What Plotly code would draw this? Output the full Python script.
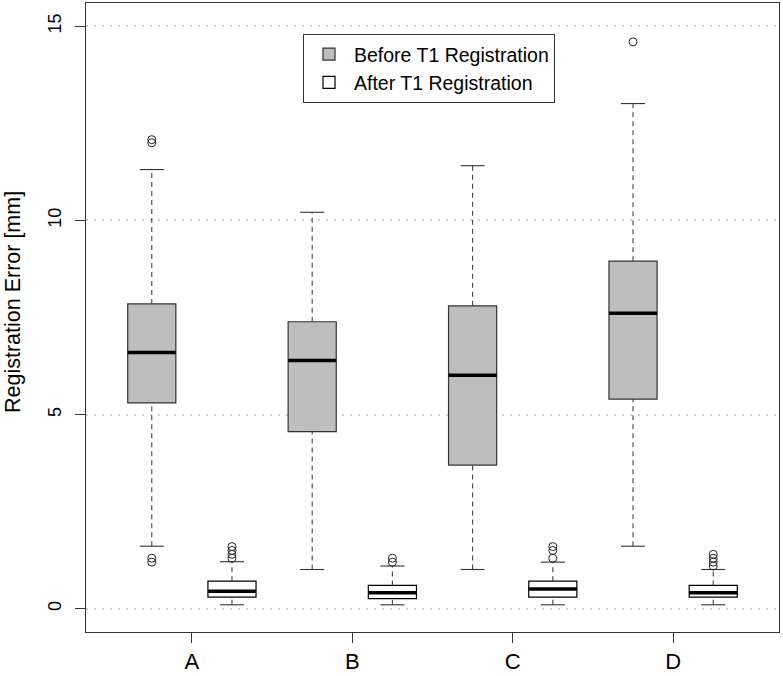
import plotly.graph_objects as go

# ---------------- data ----------------
categories = ["A", "B", "C", "D"]
series_names = ["Before T1 Registration", "After T1 Registration"]

before_lo = [1.61, 1.01, 1.01, 1.61]
before_q1 = [5.30, 4.56, 3.70, 5.40]
before_med = [6.60, 6.39, 6.01, 7.61]
before_q3 = [7.85, 7.39, 7.80, 8.95]
before_hi = [11.31, 10.21, 11.41, 13.01]
before_out = [[12.0, 12.08, 1.2, 1.3], [], [], [14.6]]

after_lo = [0.10, 0.10, 0.10, 0.10]
after_q1 = [0.30, 0.26, 0.30, 0.30]
after_med = [0.45, 0.41, 0.51, 0.41]
after_q3 = [0.71, 0.60, 0.71, 0.60]
after_hi = [1.21, 1.10, 1.20, 1.01]
after_out = [[1.3, 1.4, 1.5, 1.6], [1.2, 1.3], [1.3, 1.5, 1.6], [1.1, 1.2, 1.3, 1.4]]

y_ticks = [0, 5, 10, 15]
y_title = "Registration Error [mm]"

# ---------------- style ----------------
FONT = "Liberation Sans, Arial, Helvetica, sans-serif"
BOX_W = 0.6
CAP_W = 0.3
n = len(categories)
pos_before = [2 * i + 1 for i in range(n)]
pos_after = [2 * i + 2 for i in range(n)]
tick_pos = [2 * i + 1.5 for i in range(n)]

fig = go.Figure()


def add_group(pos, lo, q1, med, q3, hi, out, fill, edge, name):
    # dashed whiskers
    wx, wy = [], []
    for p, a, b, c, d in zip(pos, lo, q1, q3, hi):
        wx += [p, p, None, p, p, None]
        wy += [a, b, None, c, d, None]
    fig.add_trace(go.Scatter(x=wx, y=wy, mode="lines", showlegend=False,
                             hoverinfo="skip",
                             line=dict(color="#444444", width=1.1, dash="5px,4px")))
    # caps
    cx, cy = [], []
    for p, a, d in zip(pos, lo, hi):
        cx += [p - CAP_W / 2, p + CAP_W / 2, None, p - CAP_W / 2, p + CAP_W / 2, None]
        cy += [a, a, None, d, d, None]
    fig.add_trace(go.Scatter(x=cx, y=cy, mode="lines", showlegend=False,
                             hoverinfo="skip",
                             line=dict(color="#333333", width=1.1)))
    # boxes
    fig.add_trace(go.Bar(x=pos, y=[c - b for b, c in zip(q1, q3)], base=q1,
                         width=BOX_W, name=name,
                         marker=dict(color=fill, line=dict(color=edge, width=1.2))))
    # medians
    mx, my = [], []
    for p, m in zip(pos, med):
        mx += [p - BOX_W / 2, p + BOX_W / 2, None]
        my += [m, m, None]
    fig.add_trace(go.Scatter(x=mx, y=my, mode="lines", showlegend=False,
                             hoverinfo="skip",
                             line=dict(color="black", width=3.5)))
    # outliers
    ox, oy = [], []
    for p, vals in zip(pos, out):
        for v in vals:
            ox.append(p)
            oy.append(v)
    fig.add_trace(go.Scatter(x=ox, y=oy, mode="markers", showlegend=False,
                             marker=dict(symbol="circle-open", size=8,
                                         color="#222222", line=dict(width=1))))


add_group(pos_before, before_lo, before_q1, before_med, before_q3, before_hi,
          before_out, "#bebebe", "#333333", series_names[0])
add_group(pos_after, after_lo, after_q1, after_med, after_q3, after_hi,
          after_out, "#ffffff", "#000000", series_names[1])

W, H = 783, 676
L, R, T, B = 86, 4, 2, 43
pw, ph = W - L - R, H - T - B

fig.update_layout(
    width=W, height=H,
    margin=dict(l=L, r=R, t=T, b=B),
    paper_bgcolor="white", plot_bgcolor="white",
    barmode="overlay",
    font=dict(family=FONT, color="black"),
    showlegend=True,
    legend=dict(
        x=(303 - L) / pw, y=(H - B - 33) / ph, xanchor="left", yanchor="top",
        bgcolor="white", bordercolor="#333333", borderwidth=1,
        font=dict(size=19.5, family=FONT, color="black"),
        traceorder="normal", itemwidth=40,
    ),
    xaxis=dict(
        range=[0.18, 8.82], tickvals=tick_pos, ticktext=categories,
        ticks="outside", ticklen=10, tickcolor="#333333",
        showline=True, linecolor="#333333", linewidth=1, mirror=True,
        showgrid=False, zeroline=False,
        tickfont=dict(size=22, family=FONT),
    ),
    yaxis=dict(
        range=[-0.6, 15.6], tickvals=y_ticks,
        ticks="outside", ticklen=10, tickcolor="#333333",
        showline=True, linecolor="#333333", linewidth=1, mirror=True,
        showgrid=True, gridcolor="#cfcfcf", gridwidth=1.5, griddash="2px,6px",
        zeroline=False, tickangle=-90, ticklabelstandoff=7,
        tickfont=dict(size=18, family=FONT),
    ),
    annotations=[dict(
        text=y_title, xref="paper", yref="paper",
        x=(13 - L) / pw, y=(H - B - 302) / ph, xanchor="center", yanchor="middle",
        textangle=-90, showarrow=False, font=dict(size=21.5, family=FONT),
    )],
)

fig.write_html("out.html", config={"displayModeBar": False},
               post_script="document.body.style.margin='0';")
